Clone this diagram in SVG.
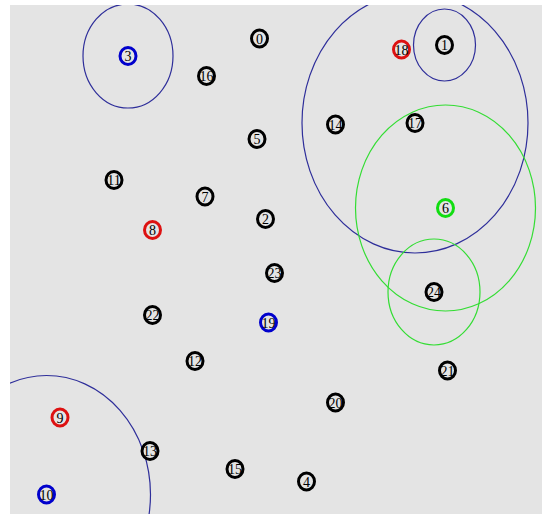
<svg xmlns="http://www.w3.org/2000/svg" width="542" height="514" viewBox="0 0 542 514">
<defs>
<clipPath id="area"><rect x="10" y="5" width="532" height="509"/></clipPath>
<style>
.bg{fill:#e4e4e4}
.range{fill:none;stroke-width:1.2}
.rb{stroke:#2e2e9a}
.rg{stroke:#33dd33}
.n ellipse{fill:#e4e4e4;stroke-width:3}
.k ellipse{stroke:#000}
.b ellipse{stroke:#0000cc}
.r ellipse{stroke:#dd1111}
.g ellipse{stroke:#11dd11}
.n text{font-family:"Liberation Serif","Times New Roman",serif;font-size:14px;fill:#000;text-anchor:middle}
</style>
</defs>
<rect x="0" y="0" width="542" height="514" fill="#ffffff"/>
<rect class="bg" x="10" y="5" width="532" height="509"/>
<g id="connectors" clip-path="url(#area)">
<ellipse class="range rb" cx="128" cy="56" rx="45" ry="52"/>
<ellipse class="range rb" cx="444.5" cy="45" rx="31" ry="36"/>
<ellipse class="range rb" cx="415" cy="123" rx="113" ry="130"/>
<ellipse class="range rg" cx="445.5" cy="208" rx="90" ry="103"/>
<ellipse class="range rg" cx="434" cy="292" rx="46" ry="53"/>
<ellipse class="range rb" cx="46.5" cy="494.5" rx="104" ry="119"/>
</g>
<g id="node0" class="n k"><ellipse cx="259.5" cy="38.5" rx="8" ry="8.5"/><text x="259.5" y="43.5">0</text></g>
<g id="node1" class="n k"><ellipse cx="444.5" cy="45" rx="8" ry="8.5"/><text x="444.5" y="50">1</text></g>
<g id="node2" class="n k"><ellipse cx="265.5" cy="219" rx="8" ry="8.5"/><text x="265.5" y="224">2</text></g>
<g id="node3" class="n b"><ellipse cx="128" cy="56" rx="8" ry="8.5"/><text x="128" y="61">3</text></g>
<g id="node4" class="n k"><ellipse cx="306.5" cy="481.5" rx="8" ry="8.5"/><text x="306.5" y="486.5">4</text></g>
<g id="node5" class="n k"><ellipse cx="257" cy="139" rx="8" ry="8.5"/><text x="257" y="144">5</text></g>
<g id="node6" class="n g"><ellipse cx="445.5" cy="208" rx="8" ry="8.5"/><text x="445.5" y="213">6</text></g>
<g id="node7" class="n k"><ellipse cx="205" cy="196.5" rx="8" ry="8.5"/><text x="205" y="201.5">7</text></g>
<g id="node8" class="n r"><ellipse cx="152.5" cy="230" rx="8" ry="8.5"/><text x="152.5" y="235">8</text></g>
<g id="node9" class="n r"><ellipse cx="60" cy="417.5" rx="8" ry="8.5"/><text x="60" y="422.5">9</text></g>
<g id="node10" class="n b"><ellipse cx="46.5" cy="494.5" rx="8" ry="8.5"/><text x="46.5" y="499.5" textLength="14" lengthAdjust="spacingAndGlyphs">10</text></g>
<g id="node11" class="n k"><ellipse cx="114" cy="180" rx="8" ry="8.5"/><text x="114" y="185" textLength="14" lengthAdjust="spacingAndGlyphs">11</text></g>
<g id="node12" class="n k"><ellipse cx="195" cy="361" rx="8" ry="8.5"/><text x="195" y="366" textLength="14" lengthAdjust="spacingAndGlyphs">12</text></g>
<g id="node13" class="n k"><ellipse cx="150" cy="451" rx="8" ry="8.5"/><text x="150" y="456" textLength="14" lengthAdjust="spacingAndGlyphs">13</text></g>
<g id="node14" class="n k"><ellipse cx="335.5" cy="124.5" rx="8" ry="8.5"/><text x="335.5" y="129.5" textLength="14" lengthAdjust="spacingAndGlyphs">14</text></g>
<g id="node15" class="n k"><ellipse cx="235" cy="469" rx="8" ry="8.5"/><text x="235" y="474" textLength="14" lengthAdjust="spacingAndGlyphs">15</text></g>
<g id="node16" class="n k"><ellipse cx="206.5" cy="76" rx="8" ry="8.5"/><text x="206.5" y="81" textLength="14" lengthAdjust="spacingAndGlyphs">16</text></g>
<g id="node17" class="n k"><ellipse cx="415" cy="123" rx="8" ry="8.5"/><text x="415" y="128" textLength="14" lengthAdjust="spacingAndGlyphs">17</text></g>
<g id="node18" class="n r"><ellipse cx="401.5" cy="49.5" rx="8" ry="8.5"/><text x="401.5" y="54.5" textLength="14" lengthAdjust="spacingAndGlyphs">18</text></g>
<g id="node19" class="n b"><ellipse cx="268.5" cy="322.5" rx="8" ry="8.5"/><text x="268.5" y="327.5" textLength="14" lengthAdjust="spacingAndGlyphs">19</text></g>
<g id="node20" class="n k"><ellipse cx="335.5" cy="402.5" rx="8" ry="8.5"/><text x="335.5" y="407.5" textLength="14" lengthAdjust="spacingAndGlyphs">20</text></g>
<g id="node21" class="n k"><ellipse cx="447.5" cy="370.5" rx="8" ry="8.5"/><text x="447.5" y="375.5" textLength="14" lengthAdjust="spacingAndGlyphs">21</text></g>
<g id="node22" class="n k"><ellipse cx="152.5" cy="315" rx="8" ry="8.5"/><text x="152.5" y="320" textLength="14" lengthAdjust="spacingAndGlyphs">22</text></g>
<g id="node23" class="n k"><ellipse cx="274.5" cy="273" rx="8" ry="8.5"/><text x="274.5" y="278" textLength="14" lengthAdjust="spacingAndGlyphs">23</text></g>
<g id="node24" class="n k"><ellipse cx="434" cy="292" rx="8" ry="8.5"/><text x="434" y="297" textLength="14" lengthAdjust="spacingAndGlyphs">24</text></g>
</svg>
